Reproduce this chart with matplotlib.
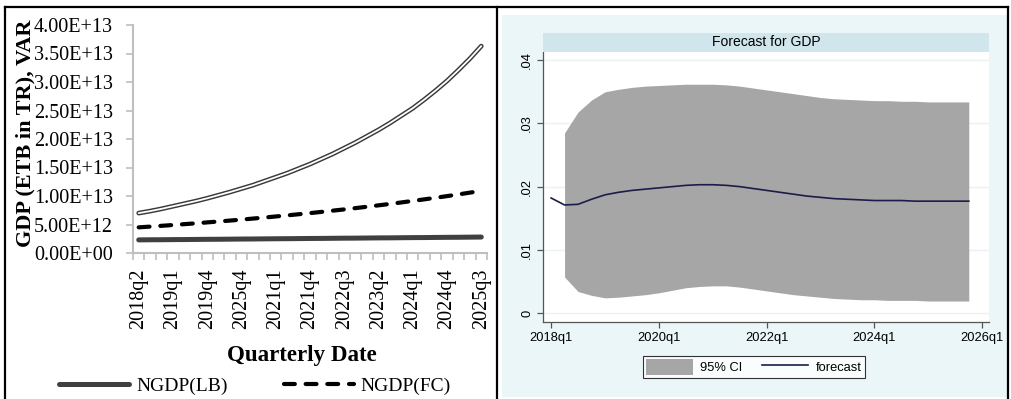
import matplotlib.pyplot as plt
from matplotlib.lines import Line2D
from matplotlib.patches import Rectangle, Patch

# left chart: quarterly GDP paths (values in ETB)
quarters_shown = ["2018q2", "2019q1", "2019q4", "2025q4", "2021q1", "2021q4",
                  "2022q3", "2023q2", "2024q1", "2024q4", "2025q3"]
var_gdp = [7.0, 7.35, 7.75, 8.2, 8.65, 9.1, 9.6, 10.15, 10.7, 11.3, 11.9, 12.6,
           13.3, 14.0, 14.8, 15.6, 16.5, 17.4, 18.4, 19.4, 20.5, 21.6, 22.8,
           24.1, 25.4, 26.9, 28.5, 30.2, 32.1, 34.1, 36.3]
ngdp_fc = [4.5, 4.63, 4.77, 4.91, 5.06, 5.21, 5.37, 5.53, 5.69, 5.86, 6.04, 6.22,
           6.41, 6.6, 6.8, 7.0, 7.21, 7.43, 7.65, 7.88, 8.12, 8.36, 8.61, 8.87,
           9.14, 9.41, 9.69, 9.98, 10.28, 10.59, 10.9]
ngdp_lb = [2.30, 2.32, 2.33, 2.35, 2.36, 2.38, 2.40, 2.41, 2.43, 2.45, 2.46, 2.48,
           2.50, 2.51, 2.53, 2.55, 2.56, 2.58, 2.60, 2.61, 2.63, 2.65, 2.66, 2.68,
           2.70, 2.71, 2.73, 2.75, 2.76, 2.78, 2.80]
scale = 1e12
gdp_ticks = ["0.00E+00", "5.00E+12", "1.00E+13", "1.50E+13", "2.00E+13",
             "2.50E+13", "3.00E+13", "3.50E+13", "4.00E+13"]

# right chart: VAR forecast, 2018q1..2025q4
fc_quarters = ["2018q1", "2020q1", "2022q1", "2024q1", "2026q1"]
forecast = [0.0182, 0.0171, 0.0172, 0.0180, 0.0187, 0.0191, 0.0194, 0.0196,
            0.0198, 0.0200, 0.0202, 0.0203, 0.0203, 0.0202, 0.0200, 0.0197,
            0.0194, 0.0191, 0.0188, 0.0185, 0.0183, 0.0181, 0.0180, 0.0179,
            0.0178, 0.0178, 0.0178, 0.0177, 0.0177, 0.0177, 0.0177, 0.0177]
ci_upper = [0.0285, 0.0318, 0.0337, 0.0350, 0.0354, 0.0357, 0.0359, 0.0360,
            0.0361, 0.0362, 0.0362, 0.0362, 0.0361, 0.0359, 0.0356, 0.0353,
            0.0350, 0.0347, 0.0344, 0.0341, 0.0339, 0.0338, 0.0337, 0.0336,
            0.0336, 0.0335, 0.0335, 0.0334, 0.0334, 0.0334, 0.0334]
ci_lower = [0.0057, 0.0034, 0.0028, 0.0024, 0.0025, 0.0027, 0.0029, 0.0032,
            0.0036, 0.0040, 0.0042, 0.0043, 0.0043, 0.0041, 0.0038, 0.0035,
            0.0032, 0.0029, 0.0027, 0.0025, 0.0023, 0.0022, 0.0021, 0.0021,
            0.0020, 0.0020, 0.0020, 0.0019, 0.0019, 0.0019, 0.0019]

W, H = 1012, 399
fig = plt.figure(figsize=(W / 100, H / 100), dpi=100)
fig.patch.set_facecolor("white")


def box(x0, y0, x1, y1):
    # pixel box (top-left origin) -> figure fraction rect
    return [x0 / W, 1 - y1 / H, (x1 - x0) / W, (y1 - y0) / H]


serif = "Liberation Serif"
sans = "Liberation Sans"

# ---------- left panel ----------
ax = fig.add_axes(box(133, 25, 487, 253))
x = list(range(len(var_gdp)))
ax.plot(x, [v * scale for v in ngdp_lb], color="#404040", lw=3.6,
        solid_capstyle="round", label="NGDP(LB)")
ax.plot(x, [v * scale for v in ngdp_fc], color="black", lw=3.0,
        dashes=(2.6, 2.6), dash_capstyle="round", label="NGDP(FC)")
ax.plot(x, [v * scale for v in var_gdp], color="#3a3a3a", lw=3.4,
        solid_capstyle="round")
ax.plot(x, [v * scale for v in var_gdp], color="white", lw=1.3,
        solid_capstyle="round")

ax.set_xlim(-0.5, len(var_gdp) - 0.5)
ax.set_ylim(0, 4e13)
ax.set_yticks([i * 5e12 for i in range(len(gdp_ticks))])
ax.set_yticklabels(gdp_ticks, fontfamily=serif, fontsize=14.5)
ax.set_xticks(list(range(0, len(var_gdp), 3)))
ax.set_xticklabels(quarters_shown, rotation=90, fontfamily=serif, fontsize=14.5)
ax.set_xticks([i - 0.5 for i in range(len(var_gdp) + 1)], minor=True)
ax.tick_params(axis="x", which="major", length=0, pad=11)
ax.tick_params(axis="x", which="minor", length=5, color="#BFBFBF", width=1.2)
ax.tick_params(axis="y", length=5, color="#BFBFBF", width=1.2, pad=9.4)
for s in ["top", "right"]:
    ax.spines[s].set_visible(False)
for s in ["left", "bottom"]:
    ax.spines[s].set_color("#BFBFBF")
    ax.spines[s].set_linewidth(1.5)

fig.text(25 / W, 1 - 133 / H, "GDP (ETB in TR), VAR", rotation=90, ha="center",
         va="center", fontfamily=serif, fontweight="bold", fontsize=16)
fig.text(302 / W, 1 - 355 / H, "Quarterly Date", ha="center", va="center",
         fontfamily=serif, fontweight="bold", fontsize=16.5)
fig.legend(handles=ax.get_lines()[:2], loc="center", bbox_to_anchor=(255 / W, 13 / H),
           ncol=2, frameon=False, handlelength=3.6, handletextpad=0.35,
           columnspacing=2.9, prop={"family": serif, "size": 14})

# ---------- right panel ----------
fig.add_artist(Rectangle((502 / W, 1 - 397 / H), 505 / W, 382 / H,
                         transform=fig.transFigure, facecolor="#EAF6F8",
                         edgecolor="none", zorder=0))
fig.add_artist(Rectangle((543 / W, 1 - 52 / H), 446 / W, 19 / H,
                         transform=fig.transFigure, facecolor="#D1E5EC",
                         edgecolor="none", zorder=1))
fig.text(766 / W, 1 - 42.5 / H, "Forecast for GDP", ha="center", va="center",
         fontfamily=sans, fontsize=10)

bx = fig.add_axes(box(543, 52, 989, 322))
bx.set_facecolor("white")
q = list(range(len(forecast)))
bx.fill_between(q[1:], ci_lower, ci_upper, color="#A6A6A6", lw=0, label="95% CI")
bx.plot(q, forecast, color="#1C1C4C", lw=1.2, label="forecast")
bx.set_xlim(-0.6, 32.5)
bx.set_ylim(-0.00142, 0.0413)
bx.set_yticks([0, 0.01, 0.02, 0.03, 0.04])
bx.set_yticklabels(["0", ".01", ".02", ".03", ".04"], rotation=90, va="center",
                   fontfamily=sans, fontsize=9.3)
bx.set_xticks([0, 8, 16, 24, 32])
bx.set_xticklabels(fc_quarters, fontfamily=sans, fontsize=9.3)
bx.grid(axis="y", color="#EAF2F3", lw=1)
bx.set_axisbelow(True)
bx.tick_params(length=4, color="#555555", width=0.9, pad=3)
for s in ["top", "right"]:
    bx.spines[s].set_visible(False)
for s in ["left", "bottom"]:
    bx.spines[s].set_color("#555555")
    bx.spines[s].set_linewidth(0.9)

leg = fig.legend(handles=[Patch(facecolor="#A6A6A6", edgecolor="none"),
                          Line2D([], [], color="#1C1C4C", lw=1.2)],
                 labels=["95% CI", "forecast"], loc="center",
                 bbox_to_anchor=(754 / W, 1 - 367 / H), ncol=2, fancybox=False,
                 handlelength=3.6, handleheight=1.5, handletextpad=0.6,
                 columnspacing=1.5, borderpad=0.25, prop={"family": sans, "size": 9.3})
leg.get_frame().set_edgecolor("black")
leg.get_frame().set_linewidth(0.8)

# table borders around the two panels
for (x0, y0, x1, y1) in [(5, 7, 1008, 7), (5, 7, 5, 399), (497, 7, 497, 399),
                         (1008, 7, 1008, 399)]:
    fig.add_artist(Line2D([x0 / W, x1 / W], [1 - y0 / H, 1 - y1 / H],
                          transform=fig.transFigure, color="black", lw=1.6))

plt.savefig("out.png", dpi=100)
